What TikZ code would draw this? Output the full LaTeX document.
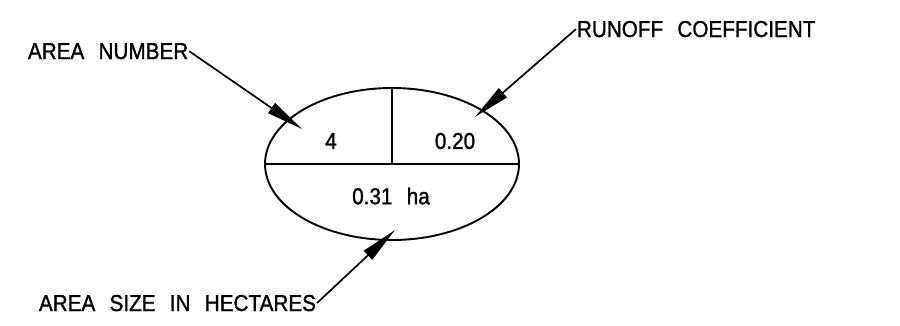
\documentclass[tikz,border=0pt]{standalone}
\usepackage{fontspec}
\setmainfont{Liberation Sans}[FakeStretch=0.9, FakeBold=1.2]
\usetikzlibrary{arrows.meta,shapes.geometric}
\newcommand{\lblfont}{\fontsize{23}{26}\selectfont\spaceskip=0.62em plus 0pt minus 0pt\relax}

\begin{document}
\begin{tikzpicture}[x=1pt, y=-1pt, line width=1.9pt,
      lbl/.style={inner sep=0pt, font=\lblfont},
      leader/.style={line width=1.7pt, -{Triangle[length=37pt, width=12pt]}}]
    \useasboundingbox (0,0) rectangle (900,325);

    % the area symbol
    \node[draw, ellipse, inner sep=0pt, minimum width=254pt, minimum height=152pt] (ell) at (392,164) {};
    \draw (ell.west) -- (ell.east);
    \draw (ell.north) -- (ell.center);
    \node[lbl] (num) at (331,141) {4};
    \node[lbl] (coef) at (455,141) {0.20};
    \node[lbl] (size) at (391,196) {0.31 ha};

    % callouts
    \node[lbl, anchor=base west] (lnum) at (27,59) {AREA NUMBER};
    \node[lbl, anchor=base west] (lcoef) at (576,37) {RUNOFF COEFFICIENT};
    \node[lbl, anchor=base west] (lsize) at (38,311) {AREA SIZE IN HECTARES};
    \coordinate (tnum) at (302,129);
    \coordinate (tcoef) at (475,117);
    \coordinate (tsize) at (395,230);

    \draw[leader] (lnum.east) -- (tnum);
    \draw[leader] (lcoef.west) -- (tcoef);
    \draw[leader] (lsize.east) -- (tsize);
  \end{tikzpicture}
\end{document}
